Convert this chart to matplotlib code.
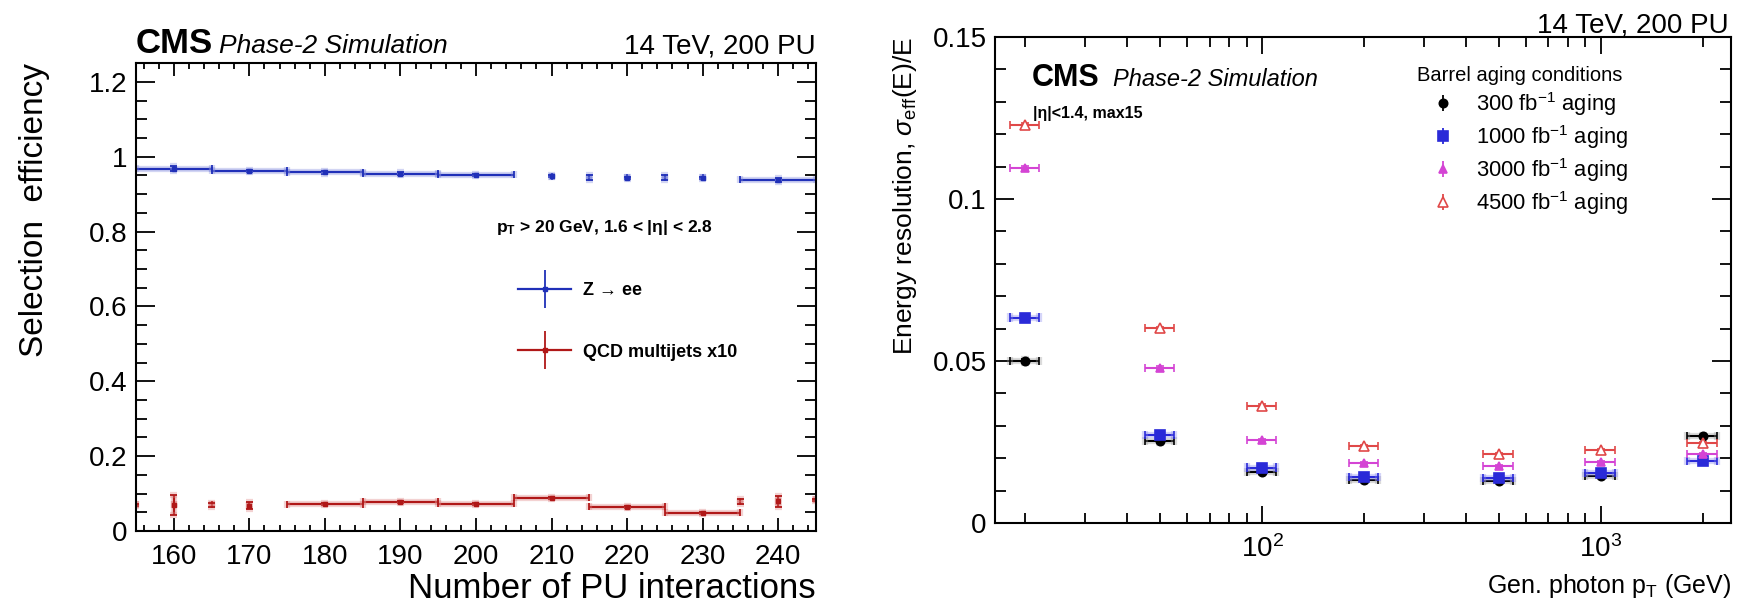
import matplotlib.pyplot as plt
import matplotlib.patheffects as pe
from matplotlib.lines import Line2D
from matplotlib.legend_handler import HandlerTuple
from matplotlib.ticker import MultipleLocator, LogLocator, NullFormatter, FuncFormatter

plt.rcParams['font.family'] = ['Liberation Sans', 'DejaVu Sans']
plt.rcParams['mathtext.fontset'] = 'custom'
plt.rcParams['mathtext.rm'] = 'Liberation Sans'
plt.rcParams['mathtext.it'] = 'Liberation Sans:italic'
plt.rcParams['mathtext.bf'] = 'Liberation Sans:bold'

# left panel: selection efficiency vs number of PU interactions
zee_pu = [160, 170, 180, 190, 200, 210, 215, 220, 225, 230, 240]
zee_eff = [0.968, 0.962, 0.958, 0.955, 0.952, 0.948, 0.944, 0.944, 0.944, 0.944, 0.938]
zee_xerr = [5, 5, 5, 5, 5, 0, 0, 0, 0, 0, 5]
zee_yerr = [0.006, 0.003, 0.003, 0.003, 0.003, 0.003, 0.006, 0.003, 0.006, 0.003, 0.005]
zee_dot = [1, 1, 1, 1, 1, 1, 0, 1, 0, 1, 1]

qcd_pu = [155, 160, 165, 170, 180, 190, 200, 210, 220, 230, 235, 240, 245]
qcd_eff = [0.070, 0.070, 0.070, 0.068, 0.072, 0.078, 0.073, 0.089, 0.065, 0.049, 0.079, 0.079, 0.083]
qcd_xerr = [0, 0, 0, 0, 5, 5, 5, 5, 5, 5, 0, 0, 0]
qcd_yerr = [0.003, 0.027, 0.006, 0.009, 0.003, 0.003, 0.003, 0.003, 0.003, 0.003, 0.006, 0.015, 0.003]
qcd_dot = [0, 1, 0, 1, 1, 1, 1, 1, 1, 1, 0, 1, 0]

# right panel: energy resolution vs photon pT
pt = [20, 50, 100, 200, 500, 1000, 2000]
pt_err = [2, 5, 10, 20, 50, 100, 200]
res_300 = [0.0500, 0.0253, 0.0158, 0.0133, 0.0129, 0.0146, 0.0269]
res_1000 = [0.0634, 0.0272, 0.0171, 0.0141, 0.0138, 0.0155, 0.0192]
res_3000 = [0.1097, 0.0479, 0.0256, 0.0185, 0.0176, 0.0188, 0.0213]
res_4500 = [0.1230, 0.0601, 0.0362, 0.0238, 0.0214, 0.0225, 0.0246]
res_err = [0.0006, 0.0005, 0.0004, 0.0003, 0.0003, 0.0003, 0.0004]
aging_labels = ['300 fb$^{-1}$ aging', '1000 fb$^{-1}$ aging',
                '3000 fb$^{-1}$ aging', '4500 fb$^{-1}$ aging']

fmt_g = FuncFormatter(lambda v, p: f'{v:g}')

fig = plt.figure(figsize=(17.39, 6.10), dpi=100)
ax1 = fig.add_axes([0.0782, 0.1295, 0.391, 0.767])
ax2 = fig.add_axes([0.5722, 0.1426, 0.4232, 0.7967])


def halo(cont, col):
    # soft glow around the bars, like the anti-aliased ROOT output
    for art in cont.lines[1] + cont.lines[2]:
        art.set_path_effects([pe.Stroke(linewidth=4.5, foreground=col, alpha=0.35), pe.Normal()])


def draw_series(ax, x, y, xerr, yerr, dots, col, light):
    c = ax.errorbar(x, y, xerr=xerr, yerr=yerr, fmt='none', ecolor=col,
                    elinewidth=1.6, capsize=2.5, capthick=1.3)
    halo(c, light)
    xs = [a for a, d in zip(x, dots) if d]
    ys = [b for b, d in zip(y, dots) if d]
    ax.plot(xs, ys, 's', color=col, ms=3.5, mec=col)


zcol, zlight = '#2030b8', '#7f88dd'
qcol, qlight = '#b01818', '#dd8080'
draw_series(ax1, zee_pu, zee_eff, zee_xerr, zee_yerr, zee_dot, zcol, zlight)
draw_series(ax1, qcd_pu, qcd_eff, qcd_xerr, qcd_yerr, qcd_dot, qcol, qlight)

ax1.set_xlim(155, 245)
ax1.set_ylim(0, 1.25)
ax1.xaxis.set_major_locator(MultipleLocator(10))
ax1.xaxis.set_minor_locator(MultipleLocator(2))
ax1.yaxis.set_major_locator(MultipleLocator(0.2))
ax1.yaxis.set_minor_locator(MultipleLocator(0.05))
ax1.yaxis.set_major_formatter(fmt_g)
ax1.tick_params(which='both', direction='in', top=True, right=True, labelsize=20, width=1.3)
ax1.tick_params(axis='y', which='major', length=14, pad=6)
ax1.tick_params(axis='y', which='minor', length=8)
ax1.tick_params(axis='x', which='major', length=9.5, pad=9)
ax1.tick_params(axis='x', which='minor', length=4.5)
for s in ax1.spines.values():
    s.set_linewidth(1.5)
ax1.set_xlabel('Number of PU interactions', fontsize=25, loc='right', labelpad=2)
ax1.set_ylabel('Selection  efficiency', fontsize=24, loc='top', labelpad=28)

ax1.text(0.0, 1.021, 'CMS', transform=ax1.transAxes, fontsize=25, fontweight='bold', va='baseline')
ax1.text(0.122, 1.021, 'Phase-2 Simulation', transform=ax1.transAxes, fontsize=19, style='italic', va='baseline')
ax1.text(1.0, 1.021, '14 TeV, 200 PU', transform=ax1.transAxes, fontsize=20, ha='right', va='baseline')
ax1.text(0.529, 0.639, r'$\mathbf{p}_{\mathbf{T}}$ > 20 GeV, 1.6 < |η| < 2.8', transform=ax1.transAxes,
         fontsize=12.5, fontweight='bold', va='baseline')

h_z = (Line2D([], [], color=zcol, lw=1.6, marker='|', ms=27, mew=1.3),
       Line2D([], [], color=zcol, ls='none', marker='s', ms=3))
h_q = (Line2D([], [], color=qcol, lw=1.6, marker='|', ms=27, mew=1.3),
       Line2D([], [], color=qcol, ls='none', marker='s', ms=3))
leg1 = ax1.legend([h_z, h_q], ['Z → ee', 'QCD multijets x10'],
                  handler_map={tuple: HandlerTuple(ndivide=1)},
                  loc='upper left', bbox_to_anchor=(0.562, 0.532), frameon=False,
                  prop={'size': 13, 'weight': 'bold'}, handlelength=2.95, handletextpad=0.65,
                  labelspacing=2.47, borderpad=0, borderaxespad=0)

# right panel
series = [(res_300, 'o', 'black', 'black', '#999999', 6),
          (res_1000, 's', '#2a2ad8', '#2a2ad8', '#8888ee', 6.5),
          (res_3000, '^', '#d444d4', '#d444d4', None, 6),
          (res_4500, '^', '#e04848', 'white', None, 7.5)]
handles = []
for vals, mk, col, face, light, ms in series:
    c = ax2.errorbar(pt, vals, xerr=pt_err, yerr=res_err, fmt=mk, color=col, mfc=face, mec=col,
                     ms=ms, mew=1.2, elinewidth=1.5, capsize=3, capthick=1.3)
    if light:
        halo(c, light)
    handles.append((Line2D([], [], color=col, ls='none', marker='|', ms=12, mew=1.3),
                    Line2D([], [], color=col, ls='none', marker=mk, mfc=face, mec=col, ms=ms, mew=1.2)))

ax2.set_xscale('log')
ax2.set_xlim(16.3, 2420)
ax2.set_ylim(0, 0.15)
ax2.xaxis.set_major_locator(LogLocator(base=10))
ax2.xaxis.set_minor_locator(LogLocator(base=10, subs=[2, 3, 4, 5, 6, 7, 8, 9]))
ax2.xaxis.set_minor_formatter(NullFormatter())
ax2.yaxis.set_major_locator(MultipleLocator(0.05))
ax2.yaxis.set_minor_locator(MultipleLocator(0.01))
ax2.yaxis.set_major_formatter(fmt_g)
ax2.tick_params(which='both', direction='in', top=True, right=True, labelsize=20, width=1.3)
ax2.tick_params(axis='y', which='major', length=14, pad=6)
ax2.tick_params(axis='y', which='minor', length=8)
ax2.tick_params(axis='x', which='major', length=12, pad=9)
ax2.tick_params(axis='x', which='minor', length=7)
for s in ax2.spines.values():
    s.set_linewidth(1.5)
ax2.set_xlabel(r'Gen. photon $\mathrm{p}_{\mathrm{T}}$ (GeV)', fontsize=18, loc='right', labelpad=6)
ax2.set_ylabel(r'Energy resolution, $σ_{\mathrm{eff}}$(E)/E', fontsize=19, loc='top', labelpad=10)

ax2.text(0.050, 0.899, 'CMS', transform=ax2.transAxes, fontsize=22, fontweight='bold', va='baseline')
ax2.text(0.160, 0.899, 'Phase-2 Simulation', transform=ax2.transAxes, fontsize=17, style='italic', va='baseline')
ax2.text(0.052, 0.833, '|η|<1.4, max15', transform=ax2.transAxes, fontsize=11.5, fontweight='bold', va='baseline')
ax2.text(0.997, 1.010, '14 TeV, 200 PU', transform=ax2.transAxes, fontsize=20, ha='right', va='baseline')

leg2 = ax2.legend(handles, aging_labels, handler_map={tuple: HandlerTuple(ndivide=1)},
                  title='Barrel aging conditions', title_fontsize=14.5, fontsize=15.8,
                  alignment='left', loc='upper left', bbox_to_anchor=(0.573, 0.94), frameon=False,
                  handlelength=2.36, handletextpad=0.36, labelspacing=0.23, borderpad=0, borderaxespad=0)

fig.savefig('out.png', dpi=100)
